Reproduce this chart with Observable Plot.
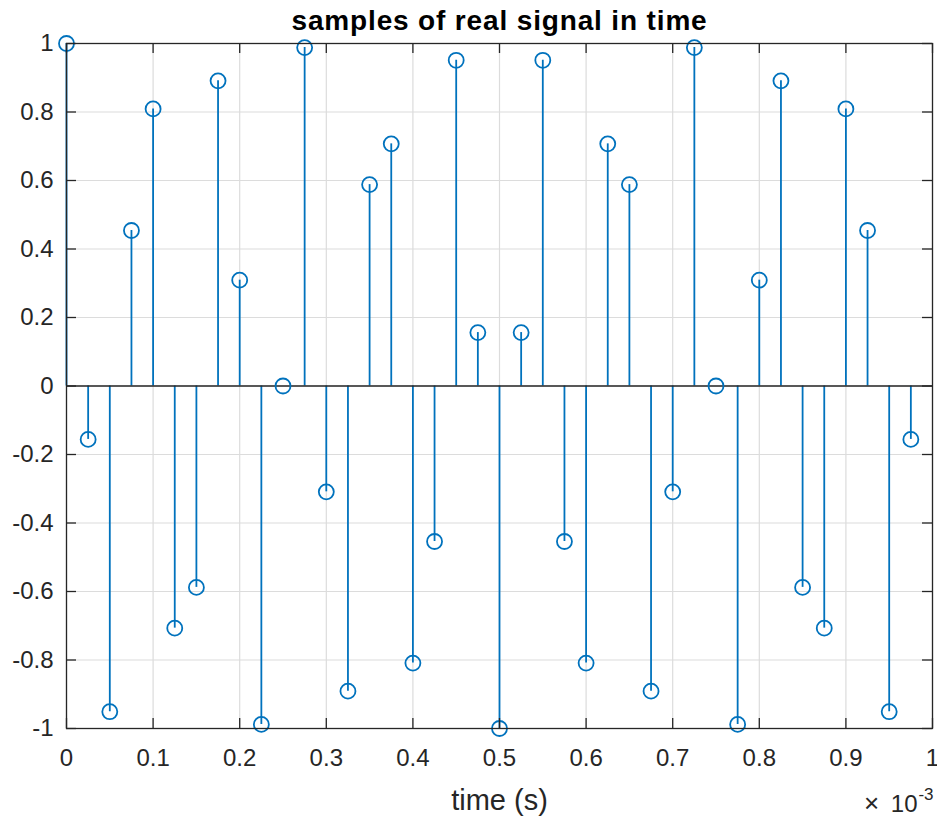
<!DOCTYPE html>
<html>
<head>
<meta charset="utf-8">
<script src="https://cdn.jsdelivr.net/npm/d3@7"></script>
<script src="https://cdn.jsdelivr.net/npm/@observablehq/plot@0.6"></script>
<style>
  html, body { margin: 0; padding: 0; background: #fff; }
  svg { font-family: "Liberation Sans", Arial, Helvetica, sans-serif; display: block; }
</style>
</head>
<body>
<div id="chart"></div>
<script>
// sample times (s)
const times = [0, 0.000025, 0.00005, 0.000075, 0.0001, 0.000125, 0.00015, 0.000175, 0.0002, 0.000225,
  0.00025, 0.000275, 0.0003, 0.000325, 0.00035, 0.000375, 0.0004, 0.000425, 0.00045, 0.000475,
  0.0005, 0.000525, 0.00055, 0.000575, 0.0006, 0.000625, 0.00065, 0.000675, 0.0007, 0.000725,
  0.00075, 0.000775, 0.0008, 0.000825, 0.00085, 0.000875, 0.0009, 0.000925, 0.00095, 0.000975];
// sample values
const values = [1, -0.156, -0.951, 0.454, 0.809, -0.707, -0.588, 0.891, 0.309, -0.988,
  0, 0.988, -0.309, -0.891, 0.588, 0.707, -0.809, -0.454, 0.951, 0.156,
  -1, 0.156, 0.951, -0.454, -0.809, 0.707, 0.588, -0.891, -0.309, 0.988,
  0, -0.988, 0.309, 0.891, -0.588, -0.707, 0.809, 0.454, -0.951, -0.156];
const xTicks = [0, 0.0001, 0.0002, 0.0003, 0.0004, 0.0005, 0.0006, 0.0007, 0.0008, 0.0009, 0.001];
const xTickLabels = ["0", "0.1", "0.2", "0.3", "0.4", "0.5", "0.6", "0.7", "0.8", "0.9", "1"];
const yTicks = [-1, -0.8, -0.6, -0.4, -0.2, 0, 0.2, 0.4, 0.6, 0.8, 1];
const yTickLabels = ["-1", "-0.8", "-0.6", "-0.4", "-0.2", "0", "0.2", "0.4", "0.6", "0.8", "1"];
const titleText = "samples of real signal in time";
const xLabel = "time (s)";
const exponentTimes = "\u00d7";
const exponentBase = "10";
const exponentPower = "-3";

const data = times.map((t, i) => ({t, v: values[i]}));
const xt = xTicks.map((x, i) => ({x, label: xTickLabels[i]}));
const yt = yTicks.map((y, i) => ({y, label: yTickLabels[i]}));

const W = 937, H = 818;
const mL = 66, mR = 5, mT = 43, mB = 90;
const plotW = W - mL - mR, plotH = H - mT - mB;
const tickLen = 10;
const blue = "#0072BD", ink = "#262626", grid = "#dcdcdc";

const chart = Plot.plot({
  width: W, height: H,
  marginLeft: mL, marginRight: mR, marginTop: mT, marginBottom: mB,
  x: {domain: [0, 0.001], axis: null},
  y: {domain: [-1, 1], axis: null},
  marks: [
    Plot.ruleX(xTicks, {x: d => d, stroke: grid, strokeWidth: 1.2}),
    Plot.ruleY(yTicks, {y: d => d, stroke: grid, strokeWidth: 1.2}),
    Plot.ruleX(data, {x: "t", y1: 0, y2: "v", stroke: blue, strokeWidth: 1.8}),
    Plot.ruleY([0], {y: d => d, stroke: ink, strokeWidth: 1.3}),
    Plot.dot(data, {x: "t", y: "v", r: 7.5, stroke: blue, strokeWidth: 1.8, fill: "none"}),
    Plot.frame({stroke: ink, strokeWidth: 1.3}),
    // inward ticks
    Plot.tickX(xTicks, {x: d => d, insetTop: plotH - tickLen, stroke: ink, strokeWidth: 1.3}),
    Plot.tickX(xTicks, {x: d => d, insetBottom: plotH - tickLen, stroke: ink, strokeWidth: 1.3}),
    Plot.tickY(yTicks, {y: d => d, insetRight: plotW - tickLen, stroke: ink, strokeWidth: 1.3}),
    Plot.tickY(yTicks, {y: d => d, insetLeft: plotW - tickLen, stroke: ink, strokeWidth: 1.3}),
    // tick labels
    Plot.text(xt, {x: "x", text: "label", frameAnchor: "bottom", dy: 30, fontSize: 24, fill: ink, lineAnchor: "middle"}),
    Plot.text(yt, {y: "y", text: "label", frameAnchor: "left", dx: -13, textAnchor: "end", fontSize: 24, fill: ink, lineAnchor: "middle"}),
    // title & axis label
    Plot.text([titleText], {text: d => d, frameAnchor: "top", dy: -22, fontSize: 28, fontWeight: "bold", fill: "#000", lineAnchor: "middle"}),
    Plot.text([xLabel], {text: d => d, frameAnchor: "bottom", dy: 72, fontSize: 29, fill: ink, lineAnchor: "middle"}),
    // exponent
    Plot.text([exponentTimes], {text: d => d, frameAnchor: "bottom-right", dx: -61, dy: 75, fontSize: 26, fill: ink, textAnchor: "middle", lineAnchor: "middle"}),
    Plot.text([exponentBase], {text: d => d, frameAnchor: "bottom-right", dx: -15, dy: 76, fontSize: 24, fill: ink, textAnchor: "end", lineAnchor: "middle"}),
    Plot.text([exponentPower], {text: d => d, frameAnchor: "bottom-right", dx: 1, dy: 66, fontSize: 17, fill: ink, textAnchor: "end", lineAnchor: "middle"})
  ]
});
d3.select(chart).selectAll("text").filter(function() { return this.textContent === titleText; })
  .style("letter-spacing", "0.85px");
document.getElementById("chart").appendChild(chart);
</script>
</body>
</html>
